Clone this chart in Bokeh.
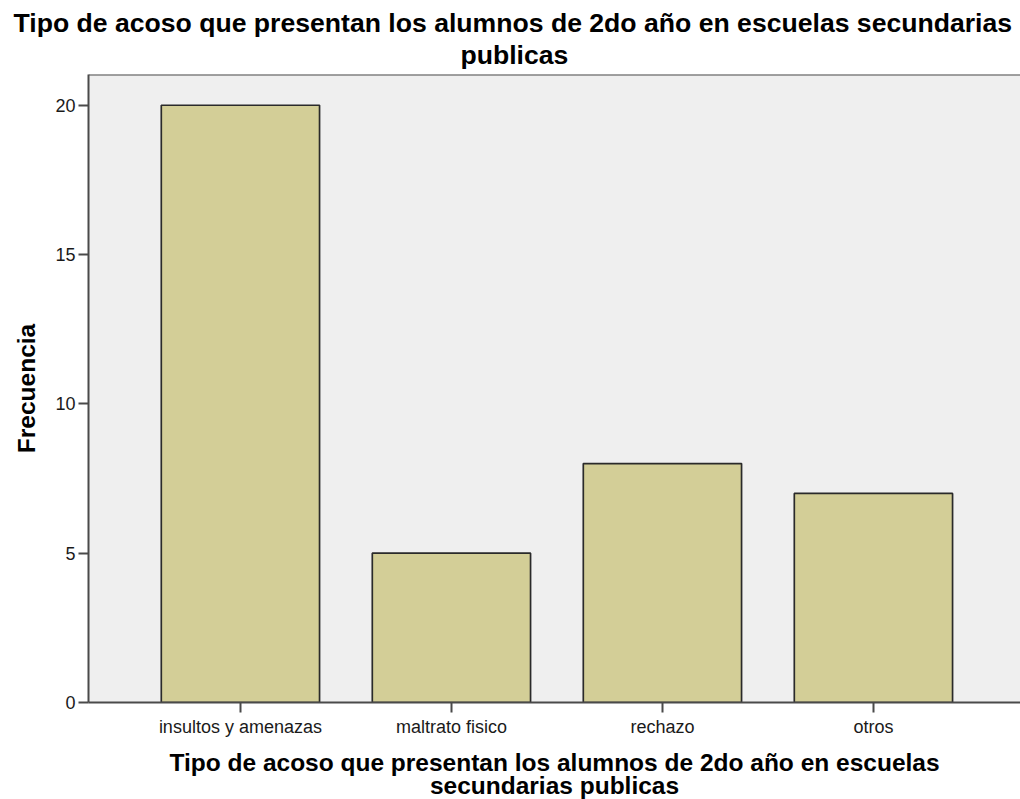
from bokeh.plotting import figure
from bokeh.models import Range1d, FixedTicker, Span, Title
from bokeh.embed import file_html
from bokeh.resources import INLINE

categories = ["insultos y amenazas", "maltrato fisico", "rechazo", "otros"]
frecuencia = [20, 5, 8, 7]
y_ticks = [0, 5, 10, 15, 20]
title_line1 = "Tipo de acoso que presentan los alumnos de 2do año en escuelas secundarias"
title_line2 = "publicas"
x_label = "Tipo de acoso que presentan los alumnos de 2do año en escuelas\nsecundarias publicas"
y_label = "Frecuencia"

positions = list(range(len(categories)))
y_max = 21.03
line_col = "#4a4a4a"

p = figure(
    frame_width=932, frame_height=628,
    x_range=Range1d(-0.72, 3.697), y_range=Range1d(0, y_max),
    output_backend="svg", toolbar_location=None,
    min_border_left=88, min_border_right=0, min_border_top=74, min_border_bottom=97,
    background_fill_color="#efefef", border_fill_color="white",
    title=None,
)
p.outline_line_color = None
p.xgrid.visible = False
p.ygrid.visible = False

for txt, so, off in [(title_line2, 9, 372), (title_line1, -8, -75)]:
    t = Title(text=txt, align="left", text_font="Liberation Sans",
              text_font_size="26.6px", text_font_style="bold", text_color="black",
              standoff=so, offset=off)
    p.add_layout(t, "above")

p.vbar(x=positions, top=frecuencia, width=0.75, bottom=0,
       fill_color="#d3ce97", line_color="#2a2a2a", line_width=1.7)

p.add_layout(Span(location=y_max, dimension="width", line_color=line_col, line_width=2))

for ax in (p.xaxis[0], p.yaxis[0]):
    ax.axis_line_color = line_col
    ax.axis_line_width = 2
    ax.major_tick_line_color = line_col
    ax.major_tick_line_width = 2
    ax.major_tick_out = 10
    ax.major_tick_in = 0
    ax.minor_tick_line_color = None
    ax.major_label_text_font = "Liberation Sans"
    ax.major_label_text_font_size = "18px"
    ax.major_label_text_color = "#1a1a1a"
    ax.axis_label_text_font = "Liberation Sans"
    ax.axis_label_text_font_size = "24.5px"
    ax.axis_label_text_font_style = "bold"
    ax.axis_label_text_color = "black"

p.xaxis.ticker = FixedTicker(ticks=positions)
p.xaxis.major_label_overrides = {i: c for i, c in zip(positions, categories)}
p.xaxis.major_label_standoff = 4
p.xaxis.axis_label = x_label
p.xaxis.axis_label_standoff = 9
p.xaxis.axis_label_text_line_height = 0.86

p.yaxis.ticker = FixedTicker(ticks=y_ticks)
p.yaxis.major_label_standoff = 3
p.yaxis.axis_label = y_label
p.yaxis.axis_label_standoff = 12

open("out.html", "w").write(file_html(p, INLINE))
